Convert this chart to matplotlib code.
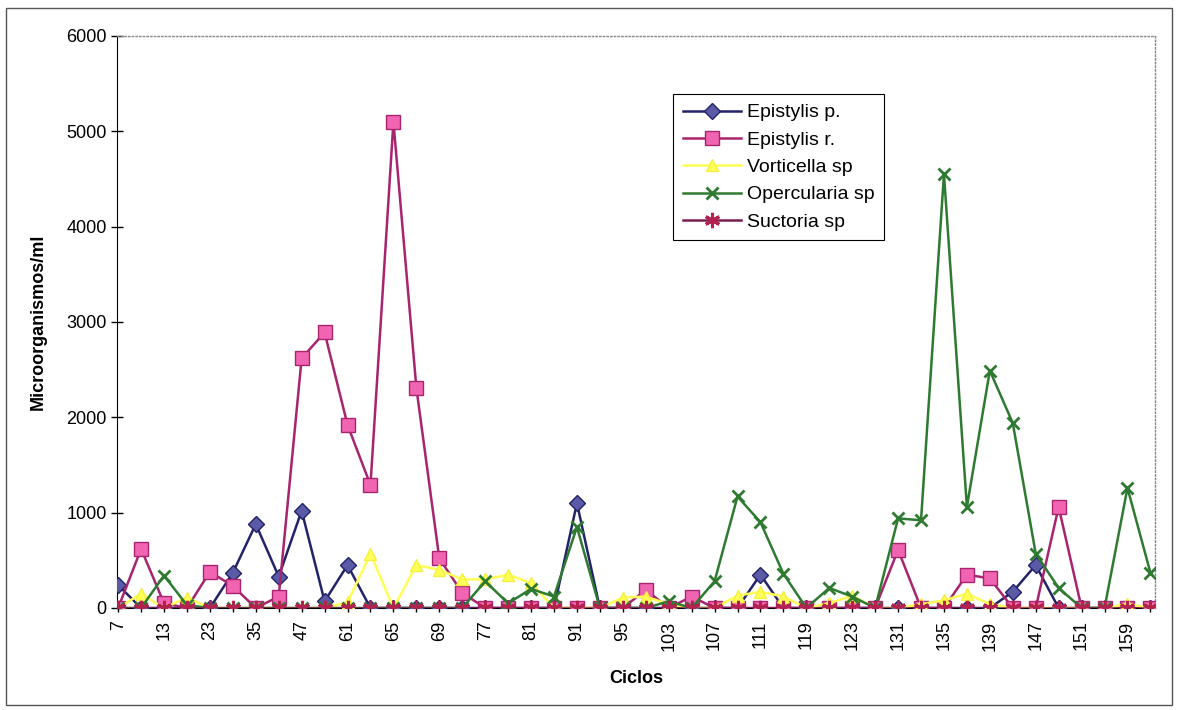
import matplotlib
matplotlib.use("Agg")
import matplotlib.pyplot as plt
from matplotlib.patches import Rectangle

plt.rcParams['font.family'] = ['Liberation Sans', 'DejaVu Sans']

ciclos = [7, 9, 13, 17, 23, 29, 35, 41, 47, 53, 61, 63, 65, 67, 69, 73, 77, 79, 81, 87,
          91, 93, 95, 99, 103, 105, 107, 109, 111, 115, 119, 121, 123, 127, 131, 133,
          135, 137, 139, 143, 147, 149, 151, 155, 159, 163]

epistylis_p = [240, 0, 0, 0, 0, 370, 880, 330, 1020, 70, 450, 0, 0, 0, 0, 0, 0, 0, 0, 0,
               1100, 0, 0, 0, 0, 0, 0, 0, 350, 0, 0, 0, 0, 0, 0, 0,
               0, 0, 0, 170, 450, 0, 0, 0, 0, 0]
epistylis_r = [0, 620, 50, 0, 380, 230, 0, 120, 2620, 2890, 1920, 1290, 5100, 2310, 520, 160, 0, 0, 0, 0,
               0, 0, 0, 190, 0, 120, 0, 0, 0, 0, 0, 0, 0, 0, 610, 0,
               0, 350, 310, 0, 0, 1060, 0, 0, 0, 0]
vorticella = [0, 150, 0, 110, 0, 0, 0, 0, 0, 0, 60, 570, 0, 450, 400, 300, 300, 350, 260, 0,
              0, 0, 110, 120, 40, 0, 0, 130, 170, 120, 0, 50, 130, 0, 0, 40,
              80, 150, 40, 0, 0, 0, 0, 0, 40, 0]
opercularia = [0, 0, 340, 30, 0, 0, 0, 0, 0, 0, 0, 0, 0, 0, 0, 0, 280, 50, 200, 120,
               850, 0, 0, 0, 70, 0, 280, 1170, 900, 360, 0, 210, 120, 0, 940, 920,
               4550, 1060, 2490, 1940, 570, 210, 0, 0, 1260, 370]
suctoria = [0] * len(ciclos)

fig = plt.figure(figsize=(11.8, 7.1), dpi=100)
ax = fig.add_axes([117/1180, 1 - 608/710, (1155-117)/1180, (608-36)/710])

x = list(range(len(ciclos)))

ax.plot(x, epistylis_p, color='#23236a', lw=1.8, marker='D', ms=8.5,
        mfc='#5a5aa6', mec='#23236a', mew=1, label='Epistylis p.', zorder=3)
ax.plot(x, epistylis_r, color='#a8246f', lw=1.8, marker='s', ms=9.5,
        mfc='#f064b2', mec='#a8246f', mew=1, label='Epistylis r.', zorder=4)
ax.plot(x, vorticella, color='#ffff55', lw=1.8, marker='^', ms=9,
        mfc='#ffff55', mec='#f5f040', mew=1, label='Vorticella sp', zorder=5)
ax.plot(x, opercularia, color='#2e7a30', lw=1.8, marker='x', ms=9,
        mec='#2e7a30', mew=2, label='Opercularia sp', zorder=6)
ax.plot(x, suctoria, color='#7a1f4e', lw=1.8, marker=(6, 2, 0), ms=11,
        mec='#b3224e', mew=2.2, label='Suctoria sp', zorder=7)

ax.set_xlim(-0.05, 45.2)
ax.set_ylim(0, 6000)
ax.set_yticks(range(0, 6001, 1000))
ax.set_xticks(x)
ax.set_xticklabels([str(c) if i % 2 == 0 else '' for i, c in enumerate(ciclos)],
                   rotation=90, fontsize=13)
ax.tick_params(axis='y', labelsize=13, direction='inout', length=8, width=1)
ax.tick_params(axis='x', direction='inout', length=6, width=1, pad=6)

ax.spines['left'].set_color('black')
ax.spines['bottom'].set_color('black')
for s in ('top', 'right'):
    ax.spines[s].set_color('#888888')
    ax.spines[s].set_linestyle(':')
    ax.spines[s].set_linewidth(1)

ax.set_ylabel('Microorganismos/ml', fontsize=13, fontweight='bold', labelpad=14)
ax.set_xlabel('Ciclos', fontsize=13, fontweight='bold', labelpad=14)

leg = ax.legend(loc='upper left', bbox_to_anchor=((673-117)/1038, (608-94)/572),
                borderaxespad=0, fontsize=14, handlelength=3, labelspacing=0.5,
                fancybox=False, framealpha=1, edgecolor='black', handletextpad=0.3,
                borderpad=0.5)
leg.get_frame().set_linewidth(0.8)

fig.patches.append(Rectangle((6/1180, 1 - 705/710), (1172-6)/1180, (705-8)/710,
                             transform=fig.transFigure, fill=False,
                             edgecolor='#555555', lw=1))

fig.savefig('out.png', dpi=100)
